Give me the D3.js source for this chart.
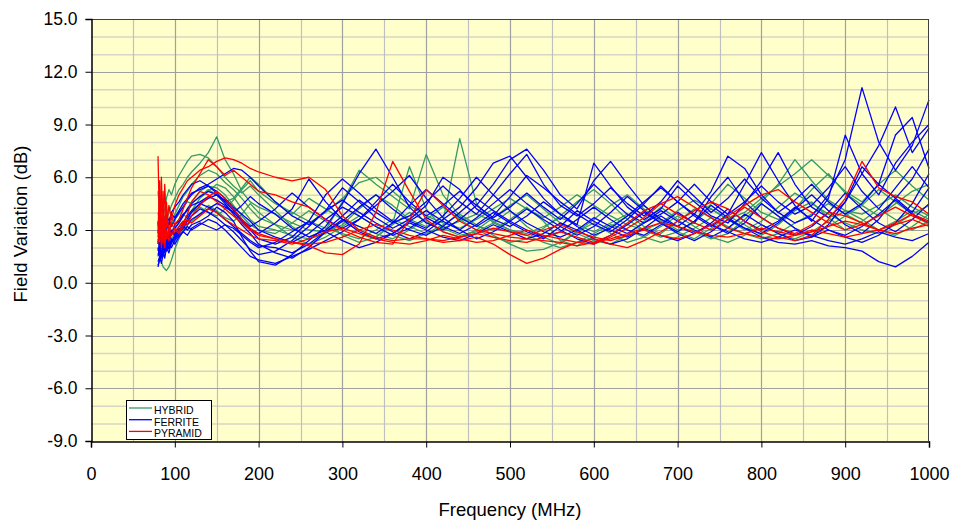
<!DOCTYPE html>
<html><head><meta charset="utf-8">
<script src="https://cdn.jsdelivr.net/npm/d3@7"></script>
<style>body{margin:0;background:#fff}svg{display:block;font-family:"Liberation Sans",Arial,sans-serif}</style>
</head><body><svg id="c" width="953" height="522"></svg>
<script>
const freqs = [80,82,84,86,88,90,93,96,100,105,110,115,120,130,140,150,160,170,180,190,200,
  220,240,260,280,300,320,340,360,380,400,420,440,460,480,500,520,540,560,580,600,620,640,660,680,700,720,740,760,780,800,820,840,860,880,900,920,940,960,980,1000];

const hybrid = [
 [3.2,3.6,3.0,3.4,3.8,3.5,4.0,4.4,4.8,5.3,5.6,6.0,6.3,6.8,7.4,8.3,7.0,6.2,5.2,4.6,4.3,
  3.9,3.4,3.0,2.9,3.3,4.2,5.0,4.4,3.6,3.2,3.5,8.2,4.5,3.4,3.0,2.8,3.2,3.7,3.3,2.9,3.4,3.9,3.2,2.8,3.5,4.2,3.7,3.1,3.8,4.6,5.6,7.0,5.8,4.7,4.1,3.9,4.4,5.0,4.3,3.8],
 [5.2,4.0,4.6,3.8,4.2,4.8,5.3,5.0,5.6,6.1,6.5,6.9,7.2,7.3,7.1,6.6,6.0,5.5,5.1,5.5,5.0,
  4.1,3.2,2.6,3.0,4.6,6.4,5.6,4.9,4.2,7.3,5.0,3.8,3.2,3.0,3.6,4.3,3.5,2.4,2.1,2.6,3.2,3.8,4.4,3.6,3.0,3.4,4.5,5.6,4.8,4.0,3.6,4.2,5.3,6.2,5.1,4.4,3.8,4.5,5.2,5.6],
 [2.0,1.5,1.2,0.9,0.8,0.7,0.9,1.3,1.9,2.5,3.0,3.6,4.1,4.8,5.2,5.6,5.4,4.9,4.2,3.6,3.2,
  3.0,2.7,2.5,2.8,3.5,3.0,2.6,3.4,6.6,4.2,3.1,2.7,2.9,3.4,4.1,3.2,2.6,2.2,2.9,3.6,4.4,5.0,4.2,3.5,2.9,2.5,3.1,3.8,3.3,2.7,3.3,4.1,4.6,3.7,3.0,3.5,4.2,3.6,3.0,3.5],
 [3.5,3.0,2.7,2.9,3.3,3.1,3.4,3.2,3.6,3.9,4.3,4.6,4.5,4.9,5.3,5.0,4.6,4.8,5.4,6.0,5.6,
  4.6,3.9,4.8,4.2,3.6,3.2,2.8,2.5,3.0,3.6,4.3,3.6,3.0,2.6,2.3,2.5,3.1,3.8,4.6,5.3,4.5,3.6,3.0,2.6,2.9,3.5,4.2,3.6,3.0,3.5,4.3,5.1,4.5,3.9,3.4,3.0,2.8,3.3,3.9,4.4],
 [2.5,2.2,2.6,2.3,2.5,2.8,2.6,2.9,3.1,3.4,3.8,4.2,4.6,5.2,5.5,5.4,5.0,4.4,3.8,3.3,3.0,
  2.8,3.4,4.1,3.5,2.7,2.3,2.6,3.3,4.0,3.5,2.9,2.6,3.0,3.7,4.4,5.0,4.2,3.4,2.8,2.4,2.2,2.7,3.5,4.3,3.6,2.9,2.5,2.8,3.6,4.5,3.8,3.1,2.7,3.2,3.8,4.4,5.3,4.6,3.9,3.3],
 [3.0,2.6,2.3,2.5,2.2,2.4,2.7,2.5,2.8,3.1,3.0,3.3,3.5,3.9,4.4,4.1,3.7,3.5,3.9,4.5,4.0,
  3.3,2.6,2.2,2.6,3.2,3.8,3.2,2.7,2.4,2.8,3.3,3.9,3.3,2.7,2.2,1.8,1.9,2.3,2.9,3.4,2.8,2.3,2.6,3.2,3.8,3.2,2.6,2.3,2.7,3.3,2.8,2.5,2.9,3.5,4.1,3.6,3.0,2.7,3.2,3.9],
 [4.0,3.4,3.8,3.2,2.9,3.3,3.0,3.4,3.9,4.4,4.9,5.2,5.6,6.1,6.4,6.2,5.7,5.3,4.8,4.2,3.7,
  3.3,3.0,3.4,4.0,4.8,5.7,6.0,5.2,4.4,3.8,3.4,3.1,3.6,4.2,4.8,4.2,3.7,4.3,5.0,4.4,3.8,3.3,3.0,3.4,4.1,4.7,4.2,3.6,4.0,4.8,5.5,6.2,7.0,6.1,5.2,4.6,5.6,6.4,5.5,4.7],
 [2.8,3.2,2.9,3.1,3.6,3.3,3.1,3.5,3.3,3.6,3.9,3.7,4.0,4.3,4.0,3.8,4.2,4.7,5.3,5.8,5.2,
  4.5,4.0,3.5,3.1,2.8,2.5,3.0,3.6,3.2,2.8,3.1,3.5,3.9,3.5,3.0,2.7,2.3,2.0,2.3,2.8,3.3,3.0,2.6,2.3,2.6,3.1,3.7,3.2,2.8,2.5,2.8,3.4,3.9,4.5,3.9,3.4,3.0,3.5,4.1,3.6]
];

const ferrite = [
 [1.0,1.3,1.8,1.5,2.0,2.3,2.0,2.4,2.6,2.9,3.2,3.0,3.3,3.5,3.8,4.3,4.0,3.5,2.6,1.8,1.2,
  1.0,1.6,2.4,3.2,4.5,6.2,7.6,6.0,4.3,3.4,3.0,3.6,4.4,5.6,7.0,7.6,6.4,5.0,4.2,5.8,6.9,5.6,4.4,3.6,3.2,3.9,5.2,7.2,6.5,5.0,4.0,3.4,3.8,5.0,7.0,11.1,8.0,6.4,7.8,10.4],
 [2.2,2.8,2.5,3.1,2.7,3.0,3.4,3.2,3.6,4.0,4.3,4.7,5.0,5.4,5.6,5.9,6.2,6.5,6.4,6.0,5.5,
  4.6,3.8,3.3,4.1,5.4,4.6,3.7,3.1,3.6,4.4,6.0,5.3,4.2,3.6,3.2,3.8,4.6,3.9,3.3,6.8,5.5,4.3,3.6,4.2,5.5,4.6,3.8,3.4,4.5,5.8,7.4,5.6,4.3,3.7,4.6,6.2,7.8,10.0,7.4,8.8],
 [1.6,2.0,1.7,2.3,1.9,2.5,2.2,2.8,3.1,3.4,3.8,4.2,4.5,4.9,5.2,5.0,4.5,3.9,3.3,2.8,2.2,
  1.7,1.4,2.0,2.9,3.6,3.2,2.8,3.4,4.4,5.3,4.5,3.7,3.2,3.8,4.9,6.1,5.4,4.6,3.9,3.3,2.9,3.6,4.5,5.5,4.6,3.9,3.3,2.8,3.4,4.5,3.8,3.1,2.6,3.3,4.6,6.6,5.6,8.4,9.4,6.5],
 [3.0,2.6,3.2,2.7,2.4,2.8,2.5,2.9,2.7,3.0,3.3,3.6,4.0,4.5,4.8,5.0,4.7,4.2,3.6,3.0,2.5,
  2.2,2.6,3.5,5.0,5.9,5.1,4.2,3.5,3.0,2.7,3.2,4.0,4.8,4.1,3.5,3.0,2.6,2.9,3.6,4.3,3.6,3.0,2.7,3.3,4.0,3.4,4.9,6.0,4.6,3.7,3.1,2.7,3.2,4.0,5.1,4.2,3.4,2.9,3.6,4.5],
 [1.2,1.5,1.1,1.6,2.1,1.8,2.3,2.0,2.4,2.7,2.9,3.2,3.0,3.3,3.6,3.4,3.0,2.5,2.0,1.5,1.3,
  1.1,1.5,1.9,2.4,2.9,3.6,4.4,5.2,6.1,4.8,3.7,3.0,2.5,2.9,3.5,4.2,3.6,3.0,2.5,2.2,2.7,3.3,4.0,3.4,2.8,2.4,2.9,3.6,3.1,2.6,2.3,2.2,2.4,2.1,2.0,1.8,1.2,0.9,1.5,2.3],
 [2.4,2.0,2.6,2.2,2.9,2.5,3.1,2.8,3.3,3.5,3.9,4.1,4.4,4.6,4.9,4.7,4.4,4.0,4.4,4.9,4.5,
  3.9,3.1,2.6,3.0,3.8,4.7,4.0,3.4,3.8,4.6,5.5,4.6,3.9,5.0,6.2,7.3,5.6,4.4,3.8,4.5,5.4,4.5,3.8,4.6,5.8,4.9,4.0,4.8,5.9,4.8,4.0,4.7,5.6,4.6,3.9,4.5,5.6,4.8,4.0,5.4],
 [2.8,3.3,2.9,3.5,3.1,3.6,3.3,3.9,3.7,4.1,4.5,4.8,5.1,5.3,5.5,5.2,4.8,4.3,3.9,3.5,3.0,
  2.6,2.3,2.8,3.6,4.3,3.8,3.2,2.7,3.1,3.7,3.2,2.8,3.3,4.0,3.4,2.9,2.5,3.2,4.1,3.5,3.0,2.6,3.1,3.8,3.2,2.8,3.4,4.2,3.5,3.0,3.5,4.3,3.6,3.0,2.7,3.2,3.9,4.7,3.9,3.4],
 [0.9,1.4,2.2,1.8,1.4,2.0,1.7,2.3,2.5,2.8,3.1,3.5,3.8,4.2,4.0,3.7,3.3,2.9,2.4,1.9,1.6,
  1.8,2.4,3.2,4.1,4.7,4.0,3.4,2.9,2.5,2.9,3.6,4.3,5.4,6.8,7.2,6.0,4.8,3.9,3.2,2.7,3.1,3.8,4.6,5.4,4.6,3.8,3.2,3.9,5.6,7.4,5.8,4.4,3.5,4.8,8.4,6.2,5.0,6.8,8.0,9.0],
 [2.0,1.6,2.4,2.0,2.6,2.2,2.7,3.0,2.8,3.2,3.5,3.3,3.6,3.9,4.2,4.5,4.3,4.0,3.5,3.0,2.8,
  3.4,4.2,5.9,4.6,3.6,2.9,2.5,2.8,3.5,4.1,3.5,3.0,3.7,4.5,5.3,4.5,3.8,3.2,2.7,3.2,4.0,4.9,4.1,3.4,2.9,3.5,4.4,3.7,3.1,2.8,3.4,4.2,5.0,4.1,3.3,2.8,3.6,4.8,5.9,7.6],
 [1.5,1.9,1.4,2.0,1.7,2.2,1.9,2.5,2.2,2.6,2.9,2.7,3.1,3.4,3.2,3.0,3.3,3.1,2.7,2.3,2.0,
  2.3,2.9,3.5,2.9,2.4,2.0,2.3,2.8,3.4,3.0,2.6,2.4,2.8,3.3,2.9,2.5,2.8,3.4,3.0,2.5,2.2,2.5,3.1,2.7,2.4,2.8,3.3,2.9,2.5,2.3,2.6,3.0,2.7,2.4,2.2,2.5,2.9,2.6,2.4,2.8],
 [3.4,2.9,3.6,3.0,3.4,3.9,3.5,4.0,4.3,4.6,5.0,5.3,5.6,5.8,5.5,5.1,4.6,4.1,3.6,3.2,3.5,
  4.2,5.1,4.3,3.6,3.1,3.6,4.6,5.6,4.6,3.8,4.4,5.2,4.4,3.7,4.3,5.1,4.3,3.6,4.5,5.6,4.7,3.9,3.4,3.9,4.6,5.6,4.6,3.9,4.6,5.5,4.6,3.9,4.4,5.4,6.6,5.2,4.2,5.4,6.6,5.4],
 [1.8,2.3,2.0,2.6,2.3,2.0,2.5,2.2,2.7,3.0,3.4,3.8,4.1,4.5,4.3,4.0,3.6,3.2,2.8,2.4,2.1,
  2.0,1.7,2.2,2.9,3.5,4.3,5.0,4.2,3.5,3.1,3.8,4.8,6.0,5.0,4.1,3.4,2.9,2.6,3.0,3.7,3.2,2.8,3.4,4.1,3.5,3.0,2.6,3.1,3.9,3.3,2.8,2.4,2.6,3.0,2.6,2.3,2.7,3.4,4.5,6.2]
];

const pyramid = [
 [7.2,2.6,6.0,2.4,5.6,3.2,4.4,3.6,4.4,5.0,5.4,5.8,6.0,6.4,6.6,6.9,7.1,7.0,6.8,6.5,6.3,
  6.0,5.8,6.0,5.3,3.8,3.0,2.6,2.4,2.5,2.5,2.4,2.6,2.8,2.6,2.4,2.3,2.6,2.9,2.6,2.3,2.5,2.8,3.1,3.4,3.2,2.9,2.7,2.6,2.8,3.1,2.9,2.7,2.9,3.2,3.5,3.3,3.0,3.4,3.9,3.5],
 [3.0,5.8,2.0,5.2,2.3,4.6,2.6,3.8,3.3,3.6,4.2,4.8,5.4,6.2,7.0,6.6,6.1,6.4,6.0,5.6,5.2,
  5.0,4.6,4.3,3.6,3.0,2.6,2.3,2.2,3.6,5.3,4.4,3.5,3.0,2.8,2.6,2.5,2.4,2.3,2.1,2.3,2.7,3.4,4.1,4.5,3.9,3.4,3.0,3.6,4.3,3.7,3.1,2.8,3.3,4.0,3.8,3.4,3.0,3.3,3.6,3.2],
 [2.6,3.4,2.2,4.4,2.0,3.0,2.4,2.8,3.1,2.9,3.4,3.9,4.6,5.2,5.0,4.6,4.2,3.8,3.4,3.0,2.7,
  2.5,2.3,2.1,1.7,1.6,2.2,4.0,6.9,5.2,3.6,2.9,2.6,2.8,3.1,2.9,2.7,3.0,3.3,2.9,2.6,2.4,2.7,3.0,2.7,2.5,2.8,3.3,3.8,4.4,5.0,5.3,4.6,4.0,3.4,3.0,3.3,3.8,4.3,3.8,3.4],
 [2.2,4.0,2.8,2.2,3.6,2.5,3.0,2.7,2.9,3.2,3.5,3.3,3.8,4.4,4.9,5.2,4.8,4.2,3.6,3.1,2.8,
  2.5,2.3,2.2,2.3,2.6,3.0,3.3,3.0,2.7,2.5,2.3,2.4,2.6,2.2,1.6,1.1,1.4,1.9,2.3,2.5,2.2,2.0,2.4,2.9,3.5,4.1,4.6,4.2,3.5,2.9,2.6,2.4,2.7,3.6,4.8,6.9,5.4,4.9,4.6,3.9],
 [3.5,2.4,4.8,3.0,2.6,3.9,2.8,3.4,3.0,2.8,3.2,3.6,3.4,3.8,4.2,4.0,3.6,3.3,3.0,2.7,2.5,
  2.4,2.2,2.5,2.9,3.1,2.8,2.5,2.3,2.2,2.4,2.7,2.5,2.3,2.4,2.7,3.0,2.7,2.5,2.3,2.2,2.6,3.1,3.7,4.5,4.9,4.3,3.7,3.1,2.8,2.6,2.5,2.7,3.0,2.8,2.6,2.8,3.0,2.8,3.1,3.3]
];

const seriesNames = ["HYBRID","FERRITE","PYRAMID"];
const seriesColors = ["#339966","#0000FF","#FF0000"];
const yTicks = [-9,-6,-3,0,3,6,9,12,15];
const xTicks = [0,100,200,300,400,500,600,700,800,900,1000];

const svg = d3.select("#c");
const L = 91, R = 929, T = 19, B = 441;
const x = d3.scaleLinear().domain([0,1000]).range([L,R]);
const y = d3.scaleLinear().domain([-9,15]).range([B,T]);

svg.append("rect").attr("x",L).attr("y",T).attr("width",R-L).attr("height",B-T).attr("fill","#FFFFCC");

// minor gridlines
const g = svg.append("g");
g.selectAll("line.hm").data(d3.range(-8,15).filter(v=>v%3!==0)).join("line")
  .attr("x1",L).attr("x2",R).attr("y1",d=>y(d)+0.5).attr("y2",d=>y(d)+0.5)
  .attr("stroke","#D6D6C2").attr("stroke-width",1.5);
g.selectAll("line.vm").data(d3.range(50,1000,100)).join("line")
  .attr("y1",T).attr("y2",B).attr("x1",d=>Math.round(x(d))+0.5).attr("x2",d=>Math.round(x(d))+0.5)
  .attr("stroke","#C0C0C0").attr("stroke-width",1.2);
g.selectAll("line.hM").data(yTicks.slice(1,-1)).join("line")
  .attr("x1",L).attr("x2",R).attr("y1",d=>Math.round(y(d))+0.5).attr("y2",d=>Math.round(y(d))+0.5)
  .attr("stroke","#A0A0A0").attr("stroke-width",1.2);
g.selectAll("line.vM").data(xTicks.slice(1,-1)).join("line")
  .attr("y1",T).attr("y2",B).attr("x1",d=>Math.round(x(d))+0.5).attr("x2",d=>Math.round(x(d))+0.5)
  .attr("stroke","#A0A0A0").attr("stroke-width",1.2);

// data
const line = d3.line().x((d,i)=>x(freqs[i])).y(d=>y(d));
const groups = [hybrid, ferrite, pyramid];
groups.forEach((grp,gi)=>{
  svg.append("g").selectAll("path").data(grp).join("path")
    .attr("d",line).attr("fill","none").attr("stroke",seriesColors[gi])
    .attr("stroke-width",1.3).attr("stroke-linejoin","round");
});

// border
svg.append("line").attr("x1",L).attr("x2",R).attr("y1",T+0.5).attr("y2",T+0.5).attr("stroke","#404040");
svg.append("line").attr("x1",R-0.5).attr("x2",R-0.5).attr("y1",T).attr("y2",B).attr("stroke","#404040");

// axes
const fmtY = d => d.toFixed(1);
const ya = svg.append("g").attr("transform",`translate(${L+0.5},0)`)
  .call(d3.axisLeft(y).tickValues(yTicks).tickFormat(fmtY).tickSizeOuter(0).tickSize(6).tickPadding(8));
ya.select(".domain").attr("stroke","#000").attr("stroke-width",1.5);
ya.selectAll("text").attr("font-size",17.5).attr("fill","#000").attr("font-family","Liberation Sans, Arial, sans-serif");
const xa = svg.append("g").attr("transform",`translate(0,${B+0.5})`)
  .call(d3.axisBottom(x).tickValues(xTicks).tickFormat(d => String(d)).tickSizeOuter(0).tickSize(6).tickPadding(20));
xa.select(".domain").attr("stroke","#000").attr("stroke-width",1.5);
xa.selectAll("text").attr("font-size",18).attr("fill","#000").attr("font-family","Liberation Sans, Arial, sans-serif");

svg.append("text").attr("x",510).attr("y",516).attr("text-anchor","middle").attr("font-size",18.5).text("Frequency (MHz)");
svg.append("text").attr("transform","translate(27,224) rotate(-90)").attr("text-anchor","middle").attr("font-size",18.5).text("Field Variation (dB)");

// legend
const lg = svg.append("g");
lg.append("rect").attr("x",126.5).attr("y",400.5).attr("width",85).attr("height",39).attr("fill","#fff").attr("stroke","#000");
seriesNames.forEach((n,i)=>{
  const yy = 408 + i*11.7;
  lg.append("line").attr("x1",129).attr("x2",152).attr("y1",yy).attr("y2",yy).attr("stroke",seriesColors[i]).attr("stroke-width",1.3);
  lg.append("text").attr("x",154).attr("y",yy+6).attr("font-size",10.5).attr("fill","#000").text(n);
});
</script></body></html>
